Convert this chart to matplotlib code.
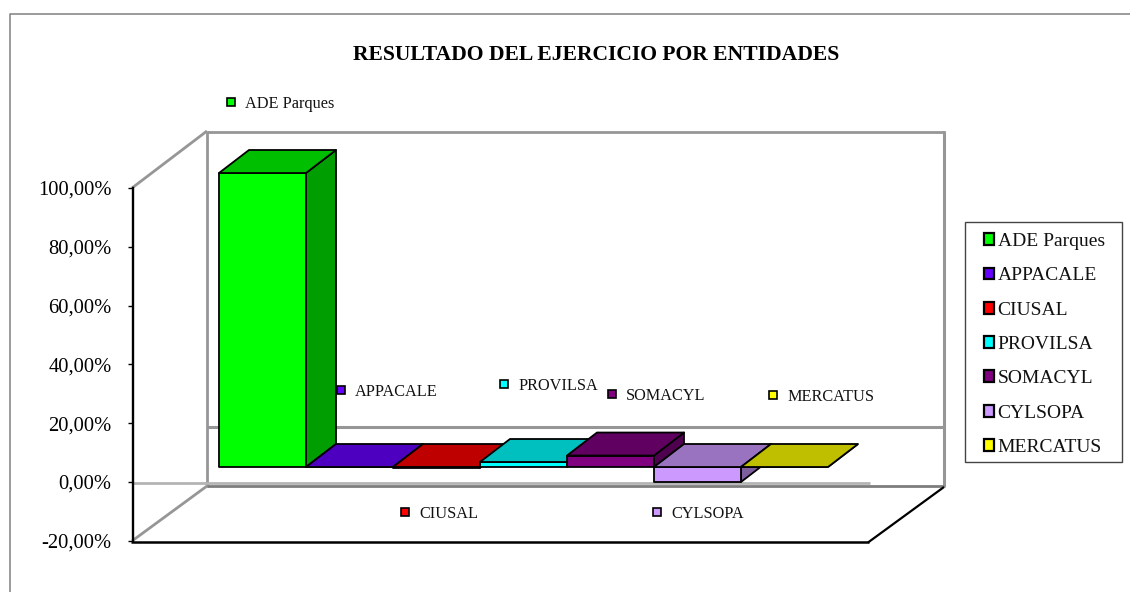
import matplotlib
matplotlib.use('Agg')
import matplotlib.pyplot as plt
from matplotlib.lines import Line2D
from matplotlib.patches import Patch, Polygon, Rectangle
from matplotlib.ticker import FuncFormatter

entidades = ['ADE Parques', 'APPACALE', 'CIUSAL', 'PROVILSA', 'SOMACYL', 'CYLSOPA', 'MERCATUS']
valores = [100.0, 0.0, -0.3, 1.7, 3.9, -5.1, 0.0]
colores = ['#00FF00', '#6600FF', '#FF0000', '#00FFFF', '#800080', '#CC99FF', '#FFFF00']
y_ticks = [-20, 0, 20, 40, 60, 80, 100]

W, H = 1130, 592
PX_X = 87.0        # bar width in pixels
PX_Y = 2.94        # pixels per percent
X0 = 199.0         # pixel of x=0 on the front plane
Y0 = 482.0         # pixel of 0% on the front plane
GRIS = '#969696'

plt.rcParams['font.family'] = ['Liberation Serif', 'DejaVu Serif']

fig = plt.figure(figsize=(W / 100, H / 100), dpi=100)
ax = fig.add_axes([0, 0, 1, 1])
ax.set_xlim(-X0 / PX_X, (W - X0) / PX_X)
ax.set_ylim((Y0 - H) / PX_Y, Y0 / PX_Y)
ax.patch.set_visible(False)


def px(x, y):
    # pixel of the picture to data coordinates
    return (x - X0) / PX_X, (Y0 - y) / PX_Y


def proj(x, v, dx=0.0, dy=0.0):
    # data point pushed back in depth by some pixels
    return x + dx / PX_X, v + dy / PX_Y


def caja(i, v, color):
    # one bar: side, front and top faces
    x0, x1 = i, i + 1
    lo, hi = min(0, v), max(0, v)
    d0 = (20, 15)
    d1 = (50, 38)
    rgb = matplotlib.colors.to_rgb(color)
    top = tuple(c * 0.75 for c in rgb)
    side = tuple(c * 0.62 for c in rgb)
    kw = dict(edgecolor='black', linewidth=1.3, joinstyle='round', zorder=5 + i)
    ax.add_patch(Polygon([proj(x1, lo, *d0), proj(x1, hi, *d0), proj(x1, hi, *d1), proj(x1, lo, *d1)],
                         facecolor=side, **kw))
    ax.add_patch(Polygon([proj(x0, lo, *d0), proj(x1, lo, *d0), proj(x1, hi, *d0), proj(x0, hi, *d0)],
                         facecolor=color, **kw))
    ax.add_patch(Polygon([proj(x0, hi, *d0), proj(x1, hi, *d0), proj(x1, hi, *d1), proj(x0, hi, *d1)],
                         facecolor=top, **kw))


def linea(p, q, color=GRIS, lw=2.0, z=2):
    a, b = px(*p), px(*q)
    ax.plot([a[0], b[0]], [a[1], b[1]], color=color, lw=lw, zorder=z, solid_capstyle='butt')


# walls and floor
linea((207, 131.5), (945, 131.5))
linea((207, 130.5), (207, 487))
linea((944, 130.5), (944, 487), lw=2.2)
linea((132, 188), (207, 131))
linea((132, 541), (207, 486))
linea((207, 427), (944, 427), lw=2.2)
linea((132, 483), (870, 483), color='#b4b4b4', lw=2.0)
linea((207, 486), (944, 486), color='#7d7d7d', lw=2.0)
linea((131, 542), (869, 542), color='black', lw=1.8, z=3)
linea((868, 542.5), (944, 487), color='black', lw=1.6, z=3)

for i, (v, c) in enumerate(zip(valores, colores)):
    caja(i, v, c)

# y axis through the real scale
ax.set_xticks([])
ax.set_yticks(y_ticks)
ax.yaxis.set_major_formatter(FuncFormatter(lambda v, pos: f'{v:.2f}%'.replace('.', ',')))
ax.tick_params(axis='y', length=3.6, width=1.0, labelsize=14.8, pad=11.6, colors='black')
for s in ['top', 'right', 'bottom']:
    ax.spines[s].set_visible(False)
ax.spines['left'].set_position(('data', px(132.5, 0)[0]))
ax.spines['left'].set_bounds(-20, 100)
ax.spines['left'].set_linewidth(1.7)

# data labels
posiciones = [(231, 102), (341, 390), (405, 512), (504, 384), (612, 394), (657, 512), (773, 395)]
for nombre, c, (mx, my) in zip(entidades, colores, posiciones):
    a = px(mx, my)
    ax.plot(*a, marker='s', ms=6.2, mfc=c, mec='black', mew=1.2, ls='none', zorder=20)
    t = px(mx + 14, my + 2)
    ax.text(t[0], t[1], nombre, fontsize=11.7, va='center', ha='left', color='#111111', zorder=20)

# title
t = px(596.5, 55.5)
ax.text(t[0], t[1], 'RESULTADO DEL EJERCICIO POR ENTIDADES', fontsize=15.55, fontweight='bold',
        ha='center', va='center', color='black')

# legend box is drawn apart, its padding is not even on all sides
a, b = px(965, 462), px(1122.5, 222)
ax.add_patch(Rectangle(a, b[0] - a[0], b[1] - a[1], facecolor='white', edgecolor='#444444',
                       linewidth=1.0, zorder=29))
handles = [Patch(facecolor=c, edgecolor='black', linewidth=1.6) for c in colores]
leg = ax.legend(handles, entidades, loc='upper left', bbox_to_anchor=(983.5 / W, 1 - 233 / H),
                bbox_transform=fig.transFigure, fontsize=14, frameon=False,
                handlelength=0.55, handleheight=0.55, handletextpad=0.18, labelspacing=0.89,
                borderpad=0, borderaxespad=0, labelcolor='#111111')
leg.set_zorder(30)

# outer frame of the picture, open on the right and at the bottom
fig.add_artist(Line2D([9.5 / W, 9.5 / W, 1], [0, 1 - 14 / H, 1 - 14 / H],
                      color='#808080', lw=1.1, transform=fig.transFigure))

fig.savefig('out.png', dpi=100)
